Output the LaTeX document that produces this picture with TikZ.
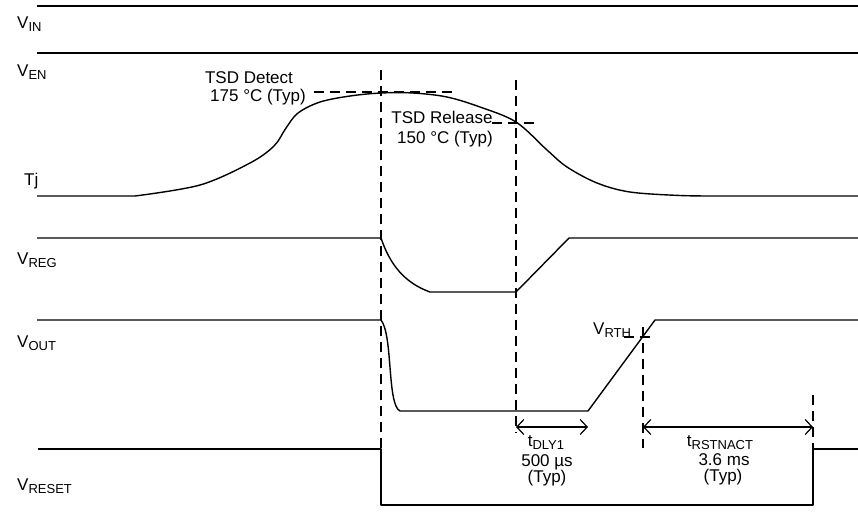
\documentclass[tikz,border=0pt]{standalone}
\usepackage{fontspec}
\setmainfont{Liberation Sans}
\usetikzlibrary{arrows.meta}
\newcommand{\lo}[1]{\raisebox{-3pt}{\fontsize{13}{13}\selectfont #1}}

\begin{document}
\begin{tikzpicture}[x=1pt, y=-1pt,
    sig/.style={line width=1.4pt, line join=round},
    guide/.style={line width=1.2pt, dash pattern=on 10pt off 6pt},
    dim/.style={{Straight Barb[length=7pt,width=15pt]}-{Straight Barb[length=7pt,width=15pt]}, line width=1.2pt},
    lbl/.style={font=\fontsize{17}{18}\selectfont, inner sep=0pt, anchor=base west},
    note/.style={font=\fontsize{17}{18}\selectfont, inner sep=0pt, anchor=base}
]
    \useasboundingbox (0,0) rectangle (858,512);

    % signal names
    \node[lbl] (vin)  at (17,28)  {V\lo{IN}};
    \node[lbl] (ven)  at (17,76)  {V\lo{EN}};
    \node[lbl] (tj)   at (24,185) {Tj};
    \node[lbl] (vreg) at (17,264) {V\lo{REG}};
    \node[lbl] (vout) at (17,347) {V\lo{OUT}};
    \node[lbl] (vrst) at (17,490) {V\lo{RESET}};

    % traces
    \draw[sig] (37,6) -- (858,6);
    \draw[sig] (37,53) -- (858,53);
    \draw[sig] (37,196) -- (135,196)
        plot[smooth, tension=0.55] coordinates {(135,196) (200,185) (250,163)
            (274,146) (286,128) (298,113) (320,102) (350,96) (381,93) (413,93)
            (447,97) (480,107) (516,122) (547,150) (567,167) (597,183) (630,192)
            (680,195.5) (720,196)}
        -- (858,196);
    \draw[sig] (37,238) -- (381,238) .. controls (390,265) and (405,283) .. (430,292)
        -- (516,292) -- (569,238) -- (858,238);
    \draw[sig] (37,320) -- (381,320) .. controls (393,335) and (387,405) .. (400,411)
        -- (588,411) -- (655,320) -- (858,320);
    \draw[sig] (38,449) -- (381,449) -- (381,505) -- (813,505) -- (813,449) -- (858,449);

    % thresholds and time marks
    \draw[guide] (381,70) -- (381,449);
    \draw[guide] (516,80) -- (516,433);
    \draw[guide] (643,327) -- (643,448);
    \draw[guide] (813,395) -- (813,449);
    \draw[guide] (314,92) -- (457,92);
    \draw[guide] (492,123) -- (535,123);
    \draw[guide] (624,337) -- (656,337);

    \node[note] (det)  at (249,83)  {TSD Detect};
    \node[note] (detv) at (258,101) {175 °C (Typ)};
    \node[note] (rel)  at (442,123) {TSD Release};
    \node[note] (relv) at (445,143) {150 °C (Typ)};
    \node[lbl]  (vrth) at (593,334) {V\lo{RTH}};

    % delays
    \coordinate (dlyA) at (516,427);
    \coordinate (dlyB) at (588,427);
    \coordinate (rstA) at (643,427);
    \coordinate (rstB) at (813,427);
    \draw[dim] (dlyA) -- (dlyB);
    \draw[dim] (rstA) -- (rstB);

    \node[note] (tdly)  at (546,446) {t\lo{DLY1}};
    \node[note] (tdlyv) at (547,466) {500 µs};
    \node[note] (tdlyt) at (547,482) {(Typ)};
    \node[note] (trst)  at (720,446) {t\lo{RSTNACT}};
    \node[note] (trstv) at (724,465) {3.6 ms};
    \node[note] (trstt) at (723,481) {(Typ)};
\end{tikzpicture}
\end{document}
